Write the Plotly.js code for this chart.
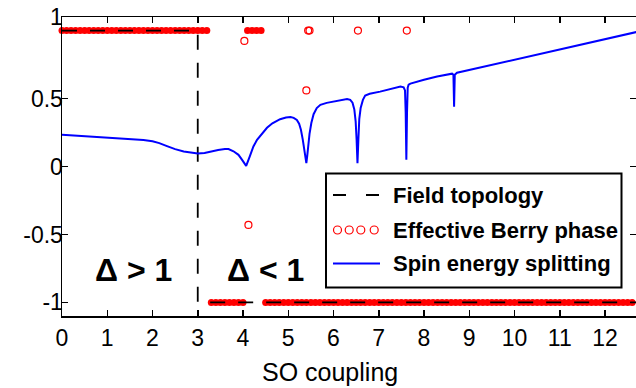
<!DOCTYPE html>
<html>
<head>
<meta charset="utf-8">
<script src="https://cdn.plot.ly/plotly-3.0.1.min.js"></script>
<style>html,body{margin:0;padding:0;background:#fff;overflow:hidden}#plot{width:636px;height:388px}</style>
</head>
<body>
<div id="plot"></div>
<script>
// ---- Data ----
var xTicks = [0,1,2,3,4,5,6,7,8,9,10,11,12];
var yTickVals = [-1,-0.5,0,0.5,1.1];
var yTickText = ['-1','-0.5','0','0.5','1'];

// Field topology (dashed)
var topoX = [0, 3, 3, 12.7];
var topoY = [1, 1, -1, -1];

// Effective Berry phase (dense band)
var berryX = [0,0.1,0.2,0.3,0.4,0.5,0.6,0.7,0.8,0.9,1,1.1,1.2,1.3,1.4,1.5,1.6,1.7,1.8,1.9,2,2.1,2.2,2.3,2.4,2.5,2.6,2.7,2.8,2.9,3,3.1,3.2,
  3.3,3.4,3.5,3.6,3.7,3.8,3.9,4,
  4.1,4.2,4.3,4.4,
  4.5,4.6,4.7,4.8,4.9,5,5.1,5.2,5.3,5.4,5.5,5.6,5.7,5.8,5.9,6,6.1,6.2,6.3,6.4,6.5,6.6,6.7,6.8,6.9,7,7.1,7.2,7.3,7.4,7.5,7.6,7.7,7.8,7.9,8,8.1,8.2,8.3,8.4,8.5,8.6,8.7,8.8,8.9,9,9.1,9.2,9.3,9.4,9.5,9.6,9.7,9.8,9.9,10,10.1,10.2,10.3,10.4,10.5,10.6,10.7,10.8,10.9,11,11.1,11.2,11.3,11.4,11.5,11.6,11.7,11.8,11.9,12,12.1,12.2,12.3,12.4,12.5,12.6,12.7];
var berryY = [1,1,1,1,1,1,1,1,1,1,1,1,1,1,1,1,1,1,1,1,1,1,1,1,1,1,1,1,1,1,1,1,1,
  -1,-1,-1,-1,-1,-1,-1,-1,
  1,1,1,1,
  -1,-1,-1,-1,-1,-1,-1,-1,-1,-1,-1,-1,-1,-1,-1,-1,-1,-1,-1,-1,-1,-1,-1,-1,-1,-1,-1,-1,-1,-1,-1,-1,-1,-1,-1,-1,-1,-1,-1,-1,-1,-1,-1,-1,-1,-1,-1,-1,-1,-1,-1,-1,-1,-1,-1,-1,-1,-1,-1,-1,-1,-1,-1,-1,-1,-1,-1,-1,-1,-1,-1,-1,-1,-1,-1,-1,-1,-1,-1,-1,-1,-1,-1];
// Effective Berry phase (isolated points)
var berryOutX = [4.03, 4.12, 5.40, 5.44, 5.47, 6.54, 7.62];
var berryOutY = [0.924, -0.43, 0.56, 1, 1, 1, 1];

// Spin energy splitting
var spinX = [0,0.4,0.85,1.2,1.58,1.8,2.0,2.15,2.32,2.5,2.69,2.85,3.0,3.15,3.28,3.45,3.6,3.68,3.79,3.9,3.98,4.07,4.15,4.23,4.31,4.42,4.53,4.65,4.82,4.95,5.05,5.12,5.19,5.24,5.28,5.32,5.35,5.38,5.40,5.42,5.44,5.47,5.51,5.56,5.63,5.71,5.85,6.0,6.15,6.30,6.37,6.42,6.46,6.49,6.51,6.53,6.55,6.57,6.60,6.65,6.70,6.8,7.03,7.25,7.48,7.55,7.58,7.595,7.61,7.625,7.64,7.66,7.7,8.0,8.29,8.62,8.65,8.665,8.68,8.73,9.5,10.05,11.0,12.0,12.7];
var spinY = [0.233,0.225,0.216,0.208,0.201,0.195,0.186,0.172,0.15,0.128,0.111,0.101,0.096,0.1,0.11,0.122,0.128,0.128,0.112,0.086,0.049,0.005,0.075,0.147,0.196,0.245,0.285,0.318,0.348,0.36,0.364,0.358,0.343,0.315,0.27,0.2,0.13,0.06,0.025,0.08,0.16,0.24,0.32,0.385,0.43,0.454,0.468,0.478,0.488,0.496,0.49,0.47,0.42,0.33,0.2,0.025,0.2,0.35,0.43,0.49,0.522,0.535,0.551,0.57,0.588,0.583,0.56,0.4,0.05,0.4,0.58,0.602,0.61,0.638,0.662,0.683,0.675,0.44,0.675,0.69,0.748,0.79,0.862,0.937,0.99];

var legendLabels = ['Field topology','Effective Berry phase','Spin energy splitting'];
var regionLabels = ['\u0394 > 1', '\u0394 < 1'];

// ---- Layout helpers (pixel -> paper) ----
var L = 62, R = 636, T = 17, B = 316;
function pxX(p){ return (p - L) / (R - L); }
function pxY(p){ return (B - p) / (B - T); }

var FONT = 'Liberation Sans, Arial, Helvetica, sans-serif';

var traces = [
  {x: berryX, y: berryY, type: 'scatter', mode: 'markers', cliponaxis: false,
   marker: {symbol: 'circle', size: 7, color: '#ff0000', line: {width: 0}},
   showlegend: false, hoverinfo: 'skip'},
  {x: berryOutX, y: berryOutY, type: 'scatter', mode: 'markers', cliponaxis: false,
   marker: {symbol: 'circle-open', size: 7, color: '#ff0000', line: {width: 1.2, color: '#ff0000'}},
   showlegend: false, hoverinfo: 'skip'},
  {x: topoX, y: topoY, type: 'scatter', mode: 'lines',
   line: {color: '#000000', width: 1.8, dash: '15px,13px'}, showlegend: false, hoverinfo: 'skip'},
  {x: spinX, y: spinY, type: 'scatter', mode: 'lines',
   line: {color: '#0000ff', width: 2}, showlegend: false, hoverinfo: 'skip'}
];

var legRows = [195, 230, 263.5];
var shapes = [
  {type: 'rect', xref: 'paper', yref: 'paper', x0: pxX(326), x1: pxX(621.5), y0: pxY(287.5), y1: pxY(173.5),
   line: {color: '#000', width: 2}, fillcolor: '#fff', layer: 'above'},
  {type: 'line', xref: 'paper', yref: 'paper', x0: pxX(333), x1: pxX(380), y0: pxY(legRows[0]), y1: pxY(legRows[0]),
   line: {color: '#000', width: 1.8, dash: '13px,20px'}},
  {type: 'line', xref: 'paper', yref: 'paper', x0: pxX(333), x1: pxX(380), y0: pxY(legRows[2]), y1: pxY(legRows[2]),
   line: {color: '#0000ff', width: 2}}
];
[337.5, 349.2, 360.8, 374.2].forEach(function(cx){
  shapes.push({type: 'circle', xref: 'paper', yref: 'paper', xsizemode: 'pixel', ysizemode: 'pixel',
    xanchor: pxX(cx), yanchor: pxY(legRows[1]), x0: -4, x1: 4, y0: -4, y1: 4,
    line: {color: '#ff0000', width: 1.2}});
});

var annotations = [];
legendLabels.forEach(function(t, i){
  annotations.push({text: '<b>' + t + '</b>', xref: 'paper', yref: 'paper', x: pxX(391), y: pxY(legRows[i]),
    xanchor: 'left', yanchor: 'middle', showarrow: false, font: {family: FONT, size: 22, color: '#000'}});
});
annotations.push({text: '<b>' + regionLabels[0] + '</b>', xref: 'paper', yref: 'paper', x: pxX(133.5), y: pxY(270),
  xanchor: 'center', yanchor: 'middle', showarrow: false, font: {family: FONT, size: 32, color: '#000'}});
annotations.push({text: '<b>' + regionLabels[1] + '</b>', xref: 'paper', yref: 'paper', x: pxX(265), y: pxY(270),
  xanchor: 'center', yanchor: 'middle', showarrow: false, font: {family: FONT, size: 32, color: '#000'}});
annotations.push({text: 'SO coupling', xref: 'paper', yref: 'paper', x: pxX(329.5), y: pxY(372),
  xanchor: 'center', yanchor: 'middle', showarrow: false, font: {family: FONT, size: 25, color: '#000'}});

var layout = {
  width: 636, height: 388,
  margin: {l: L, r: 636 - R, t: T, b: 388 - B, pad: 0},
  paper_bgcolor: '#fff', plot_bgcolor: '#fff',
  font: {family: FONT, size: 23, color: '#000'},
  showlegend: false,
  xaxis: {range: [0, 12.685], tickmode: 'array', tickvals: xTicks, ticktext: xTicks.map(String),
    ticks: 'inside', ticklen: 6, tickwidth: 1.5, tickcolor: '#000', ticklabelstandoff: 1,
    showline: true, linewidth: 1.5, linecolor: '#000', mirror: 'ticks',
    showgrid: false, zeroline: false, tickfont: {family: FONT, size: 23, color: '#000'}},
  yaxis: {range: [-1.1, 1.1], tickmode: 'array', tickvals: yTickVals, ticktext: yTickText,
    ticks: 'inside', ticklen: 6, tickwidth: 1.5, tickcolor: '#000', ticklabelstandoff: -7,
    showline: true, linewidth: 1.5, linecolor: '#000', mirror: 'ticks',
    showgrid: false, zeroline: false, tickfont: {family: FONT, size: 23, color: '#000'}},
  shapes: shapes,
  annotations: annotations
};

Plotly.newPlot('plot', traces, layout, {staticPlot: true, displayModeBar: false});
</script>
</body>
</html>
